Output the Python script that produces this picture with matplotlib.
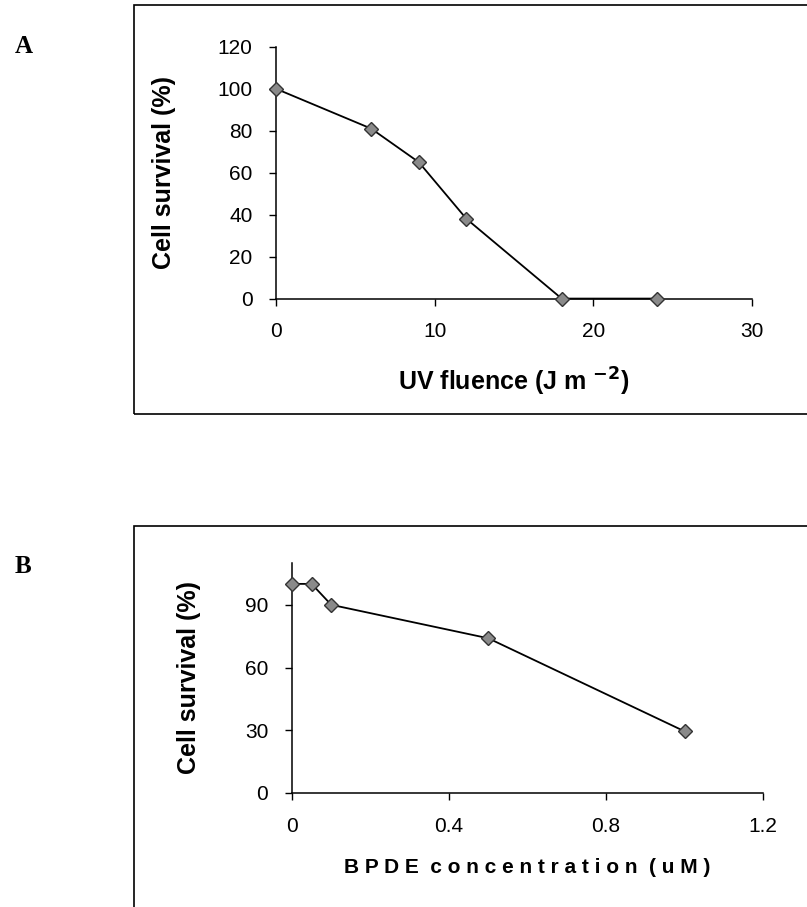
import matplotlib
matplotlib.use("Agg")
import matplotlib.pyplot as plt
from matplotlib.patches import Rectangle

# panel A: UV fluence vs survival
uv_dose = [0, 6, 9, 12, 18, 24]
uv_survival = [100, 81, 65, 38, 0, 0]

# panel B: BPDE concentration vs survival
bpde_conc = [0, 0.05, 0.1, 0.5, 1.0]
bpde_survival = [100, 100, 90, 74, 29.5]

plt.rcParams["font.family"] = ["Liberation Sans", "DejaVu Sans"]

fig = plt.figure(figsize=(8.07, 9.07), dpi=100)

# panel frames
for y0, y1 in [(0.5436, 0.9945), (-0.02, 0.42)]:
    fig.patches.append(Rectangle((0.166, y0), 0.9, y1 - y0, transform=fig.transFigure,
                                 fill=False, edgecolor="black", lw=1.2))

fig.text(0.018, 0.942, "A", family="Liberation Serif", fontweight="bold", fontsize=18)
fig.text(0.018, 0.368, "B", family="Liberation Serif", fontweight="bold", fontsize=18)

marker = dict(marker="D", ms=7, mfc="#8a8a8a", mec="#333333", mew=1.0,
              color="black", lw=1.3, clip_on=False, zorder=3)

axA = fig.add_axes([0.342, 0.6708, 0.590, 0.2776])
axA.plot(uv_dose, uv_survival, **marker)
axA.set_xlim(0, 30)
axA.set_ylim(0, 120)
axA.set_xticks([0, 10, 20, 30])
axA.set_yticks(range(0, 121, 20))
axA.set_xlabel("UV fluence (J m $^{\\mathbf{-2}}$)", fontsize=18, fontweight="bold", labelpad=18)
axA.set_ylabel("Cell survival (%)", fontsize=18, fontweight="bold", labelpad=30)

axB = fig.add_axes([0.3618, 0.1257, 0.5837, 0.2536])
axB.plot(bpde_conc, bpde_survival, **marker)
axB.set_xlim(0, 1.2)
axB.set_ylim(0, 110)
axB.set_xticks([0, 0.4, 0.8, 1.2])
axB.set_xticklabels(["0", "0.4", "0.8", "1.2"])
axB.set_yticks([0, 30, 60, 90])
axB.set_xlabel("B P D E  c o n c e n t r a t i o n  ( u M )", fontsize=15, fontweight="bold", labelpad=16)
axB.set_ylabel("Cell survival (%)", fontsize=18, fontweight="bold", labelpad=32)

for ax in (axA, axB):
    ax.spines["top"].set_visible(False)
    ax.spines["right"].set_visible(False)
    ax.spines["left"].set_linewidth(1.1)
    ax.spines["bottom"].set_linewidth(1.1)
    ax.tick_params(direction="out", length=5, width=1, labelsize=15, pad=12)

fig.savefig("out.png", dpi=100)
